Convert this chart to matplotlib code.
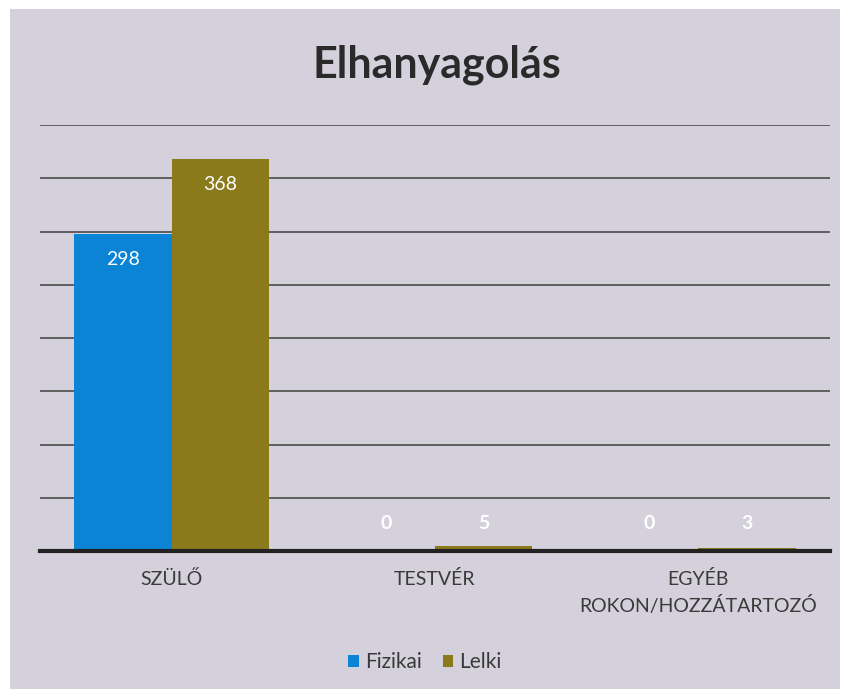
import matplotlib
matplotlib.use("Agg")
import matplotlib.pyplot as plt
import numpy as np
from matplotlib.patches import Rectangle

# data
categories = ["SZÜLŐ", "TESTVÉR", "EGYÉB\nROKON/HOZZÁTARTOZÓ"]
fizikai = [298, 0, 0]
lelki = [368, 5, 3]
series_names = ["Fizikai", "Lelki"]

blue = "#0b84d6"
olive = "#8b7a1c"
bg = "#d5d1dc"

plt.rcParams["font.family"] = ["Lato", "DejaVu Sans"]

fig = plt.figure(figsize=(8.49, 6.97), dpi=100)
fig.patch.set_facecolor("white")
# chart area background (scanned page)
fig.patches.append(Rectangle((10 / 849, 8 / 697), 830 / 849, 680 / 697,
                             transform=fig.transFigure, facecolor=bg,
                             edgecolor="none", zorder=-10))

ax = fig.add_axes([40 / 849, 1 - 551 / 697, 790 / 849, 426 / 697])
ax.set_facecolor("none")

x = np.arange(len(categories))
w = 0.37
b1 = ax.bar(x - w / 2, fizikai, w, color=blue, zorder=3)
b2 = ax.bar(x + w / 2, lelki, w, color=olive, zorder=3)

# data labels
for bars, vals in ((b1, fizikai), (b2, lelki)):
    for rect, v in zip(bars, vals):
        cx = rect.get_x() + rect.get_width() / 2
        if v > 50:
            ax.text(cx, v - 24, str(v), ha="center", va="center",
                    color="white", fontsize=14, zorder=4)
        else:
            ax.text(cx, 26, str(v), ha="center", va="center",
                    color="white", fontsize=14, fontweight="bold", zorder=4)

ax.set_xlim(-0.5, 2.5)
ax.set_ylim(0, 400)
ax.set_yticks(np.arange(50, 401, 50))
ax.yaxis.grid(True, color="#555555", linewidth=1.3, zorder=1)
ax.set_axisbelow(True)
ax.tick_params(axis="y", length=0, labelleft=False)
ax.tick_params(axis="x", length=0, pad=14)
ax.set_xticks(x)
ax.set_xticklabels(categories, fontsize=14, color="#3a3a3a", linespacing=1.5)
for s in ("top", "right", "left"):
    ax.spines[s].set_visible(False)
ax.spines["bottom"].set_color("#222222")
ax.spines["bottom"].set_linewidth(3)
ax.spines["bottom"].set_zorder(5)

fig.text(437 / 849, 1 - 65 / 697, "Elhanyagolás", ha="center", va="center",
         fontsize=31, fontweight="bold", color="#2a2a2a")

leg = fig.legend([b1, b2], series_names, loc="center",
                 bbox_to_anchor=(425 / 849, 1 - 662 / 697), ncol=2,
                 frameon=False, fontsize=15, handlelength=0.5,
                 handleheight=0.5, handletextpad=0.3, columnspacing=1.0)
for t in leg.get_texts():
    t.set_color("#3a3a3a")

fig.savefig("out.png", dpi=100)
